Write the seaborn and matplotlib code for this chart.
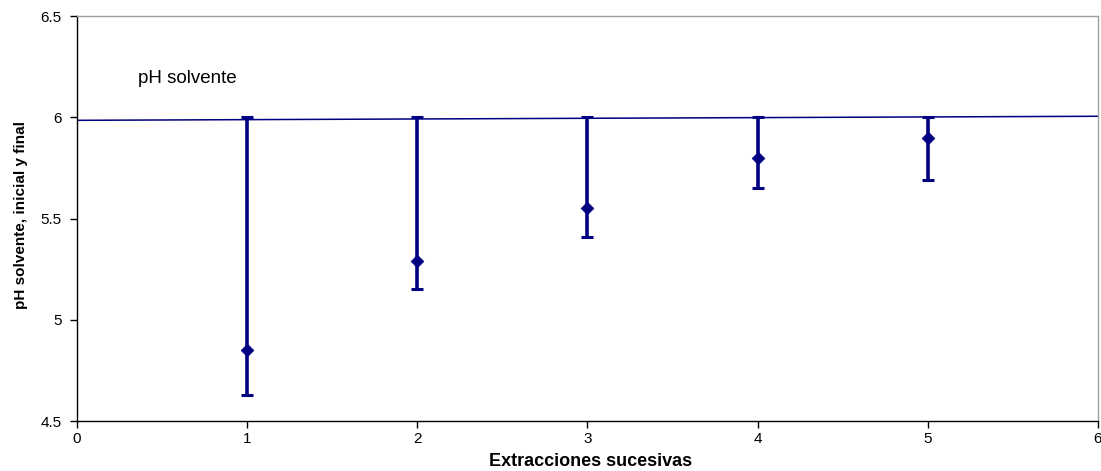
import matplotlib
matplotlib.use("Agg")
import matplotlib.pyplot as plt
import seaborn as sns
import numpy as np
import pandas as pd

# Data
extraction = [1, 2, 3, 4, 5]
ph_final = [4.85, 5.29, 5.55, 5.80, 5.90]
ph_low = [4.63, 5.15, 5.41, 5.65, 5.69]
ph_initial = [6.0, 6.0, 6.0, 6.0, 6.0]
solvent_x = [0, 6]
solvent_y = [5.985, 6.005]
x_ticks = [0, 1, 2, 3, 4, 5, 6]
y_ticks = [4.5, 5, 5.5, 6, 6.5]
y_tick_labels = ["4.5", "5", "5.5", "6", "6.5"]

sns.set_theme(style="white")
plt.rcParams['font.family'] = ['Liberation Sans', 'DejaVu Sans']
plt.rcParams['text.color'] = 'black'
plt.rcParams['axes.labelcolor'] = 'black'

NAVY = "#000080"

fig = plt.figure(figsize=(11.01, 4.71), dpi=100)
ax = fig.add_axes([0.0699, 0.106, 0.9273, 0.860])

df = pd.DataFrame({"x": extraction, "y": ph_final})
line_df = pd.DataFrame({"x": solvent_x, "y": solvent_y})

sns.lineplot(data=line_df, x="x", y="y", ax=ax, color=NAVY, linewidth=1.1)

yerr_low = np.array(ph_final) - np.array(ph_low)
yerr_high = np.array(ph_initial) - np.array(ph_final)
ax.errorbar(extraction, ph_final, yerr=[yerr_low, yerr_high], fmt="none",
            ecolor=NAVY, elinewidth=2.6, capsize=4.5, capthick=2.2, zorder=3)
sns.scatterplot(data=df, x="x", y="y", ax=ax, marker="D", s=42, color=NAVY,
                edgecolor=NAVY, zorder=4)

ax.set_xlim(0, 6)
ax.set_ylim(4.5, 6.5)
ax.set_xticks(x_ticks)
ax.set_xticklabels([str(v) for v in x_ticks])
ax.set_yticks(y_ticks)
ax.set_yticklabels(y_tick_labels)
ax.tick_params(axis="both", which="both", direction="out", length=5, width=1,
               labelsize=11, colors="black", labelcolor="black", left=True, bottom=True)
ax.tick_params(axis="x", pad=3)
ax.tick_params(axis="y", pad=6)

for s in ["left", "bottom"]:
    ax.spines[s].set_color("black")
    ax.spines[s].set_linewidth(1.0)
for s in ["top", "right"]:
    ax.spines[s].set_color("#a0a0a0")
    ax.spines[s].set_linewidth(1.0)

ax.set_xlabel("Extracciones sucesivas", fontsize=13, fontweight="bold", color="black")
ax.set_ylabel("pH solvente, inicial y final", fontsize=11, fontweight="bold", color="black")
ax.xaxis.set_label_coords(0.5 * (473 + 712) / 1024 - 77 / 1024, -0.080)
ax.yaxis.set_label_coords(-0.048, 0.5 * ((421 - 120) + (421 - 310)) / 405)

ax.text(0.36, 6.19, "pH solvente", fontsize=13.5, ha="left", va="center", color="black")

fig.savefig("out.png", dpi=100)
